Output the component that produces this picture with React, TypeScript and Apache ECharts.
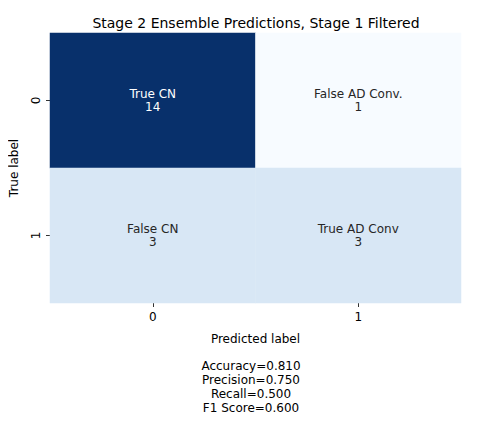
import { useEffect, useRef } from "react";
import * as echarts from "echarts";

const xLabels = ["0", "1"];
const yLabels = ["0", "1"];
// [x, y, value]
const cells = [
  [0, 0, 14],
  [1, 0, 1],
  [0, 1, 3],
  [1, 1, 3],
];
const cellNames = [
  ["True CN", "False AD Conv."],
  ["False CN", "True AD Conv"],
];
const metrics = ["Accuracy=0.810", "Precision=0.750", "Recall=0.500", "F1 Score=0.600"];
const blues = ["#f7fbff", "#deebf7", "#c6dbef", "#9ecae1", "#6baed6", "#4292c6", "#2171b5", "#08519c", "#08306b"];

const App = () => {
  const chartRef = useRef(null);

  useEffect(() => {
    if (!chartRef.current) return;
    const chart = echarts.init(chartRef.current, null, { renderer: "svg" });
    const font = "DejaVu Sans";
    chart.setOption({
      animation: false,
      textStyle: { fontFamily: font },
      title: {
        text: "Stage 2 Ensemble Predictions, Stage 1 Filtered",
        left: 251,
        textAlign: "center",
        top: 11,
        textStyle: { fontSize: 14, fontWeight: "normal", color: "#000", fontFamily: font },
      },
      grid: { left: 42, top: 33, width: 419, height: 270 },
      xAxis: {
        type: "category",
        data: xLabels,
        name: "Predicted label",
        nameLocation: "middle",
        nameGap: 30,
        nameTextStyle: { fontSize: 12, color: "#000" },
        axisLine: { show: false },
        axisTick: { show: true, alignWithLabel: true, length: 4, lineStyle: { color: "#333" } },
        axisLabel: { fontSize: 12, color: "#000", margin: 8 },
        splitArea: { show: false },
      },
      yAxis: {
        type: "category",
        data: yLabels,
        inverse: true,
        name: "True label",
        nameLocation: "middle",
        nameGap: 30,
        nameRotate: 90,
        nameTextStyle: { fontSize: 12, color: "#000" },
        axisLine: { show: false },
        axisTick: { show: true, alignWithLabel: true, length: 4, lineStyle: { color: "#333" } },
        axisLabel: { fontSize: 12, color: "#000", rotate: 90, margin: 8 },
      },
      visualMap: { show: false, min: 1, max: 14, inRange: { color: blues } },
      graphic: metrics.map((m, i) => ({
        type: "text",
        left: 251 - 50,
        top: 360 + i * 14,
        style: { text: m, x: 0, fontSize: 12, fill: "#000", fontFamily: font, width: 100, align: "center" },
      })).map((g) => ({ ...g, left: undefined, x: 251, y: g.top, top: undefined, style: { ...g.style, align: "center" } })),
      series: [
        {
          type: "heatmap",
          data: cells.map(([x, y, v]) => ({
            value: [x, y, v],
            label: {
              show: true,
              formatter: `${cellNames[y][x]}\n${v}`,
              color: v > 8 ? "#fff" : "#262626",
              fontSize: 12,
              lineHeight: 13,
              fontFamily: font,
            },
          })),
        },
      ],
    });
    return () => {
      chart.dispose();
    };
  }, []);

  return <div ref={chartRef} style={{ width: "485px", height: "422px", margin: -8 }}></div>;
};

export default App;
